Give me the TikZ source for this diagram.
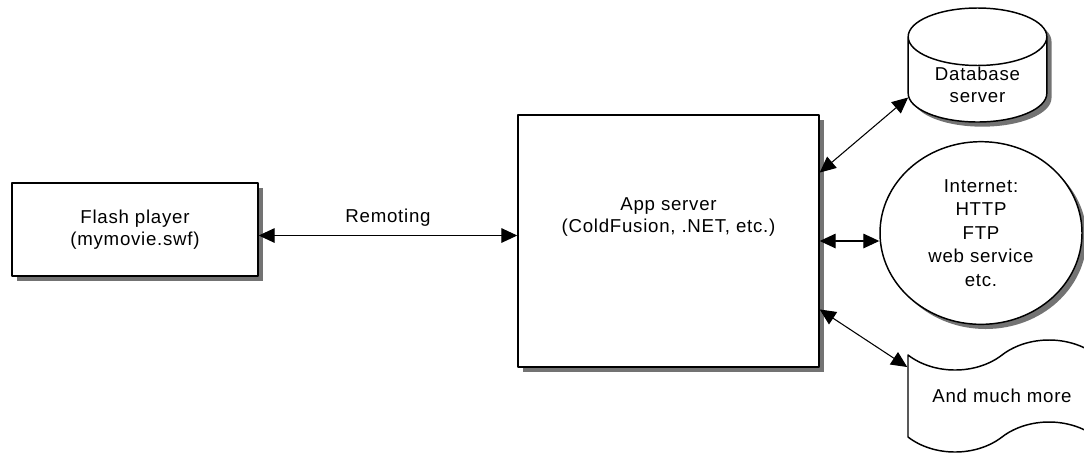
\documentclass[tikz,border=0pt]{standalone}
\usepackage{fontspec}
\setmainfont[LetterSpace=4]{Liberation Sans}
\usetikzlibrary{arrows.meta,calc,shadows,shapes.geometric,shapes.symbols}
\tikzset{
  box/.style={draw,fill=white,line width=1.1pt,align=center,
    drop shadow={shadow xshift=3.5pt,shadow yshift=-3.5pt,fill=black!55,opacity=1}},
  link/.style={<->,line width=0.8pt},
}
\begin{document}
\begin{tikzpicture}[line join = round, line cap = round,>={Triangle[length=12pt,width=11pt]},font=\fontsize{14}{16.5}\selectfont,x=0.75pt,y=-0.75pt]
	\useasboundingbox (0,0) rectangle (1084,455);
	% boxes
	\node[box,minimum width=184.5pt,minimum height=69.75pt] (flash) at (135,229.5) {Flash player\\(mymovie.swf)};
	\node[box,minimum width=225.75pt,minimum height=189pt] (app) at (668.5,241) {};
	\node[align=center] (apptext) at (668.5,217.5) {App server\\(ColdFusion, .NET, etc.)};
	\node[box,cylinder,shape border rotate=90,aspect=0.6,inner xsep=4pt,inner ysep=0pt,minimum width=104pt,minimum height=85.5pt,anchor=shape center] (db) at (977.5,65) {Database\\server};
	\node[box,ellipse,minimum width=151.5pt,minimum height=137pt,inner sep=0pt,font=\fontsize{14}{17.6}\selectfont] (net) at (981,233) {Internet:\\HTTP\\FTP\\web service\\etc.};
	\begin{scope}
		\clip (0,0) rectangle (1084,455);
		\node[draw,fill=white,line width=1.1pt,tape,tape bend top=in and out,tape bend bottom=in and out,tape bend height=22.5pt,minimum width=141pt,minimum height=84pt] (more) at (1002,396) {And much more};
	\end{scope}
	% connectors
	\path
	($(app.north east)!0.23!(app.south east)$) coordinate (A)
	($(app.north east)!0.77!(app.south east)$) coordinate (B)
	;
	\draw[link] ([yshift=-4.5pt]flash.east) -- ([yshift=-4.5pt]flash.east -| app.west) node[midway,above=3pt] {Remoting};
	\draw[link] (app.east) -- (app.east -| net.west);
	\foreach \a/\b in {A/db.190,B/more.163} \draw[link] (\a) -- (\b);
\end{tikzpicture}
\end{document}
